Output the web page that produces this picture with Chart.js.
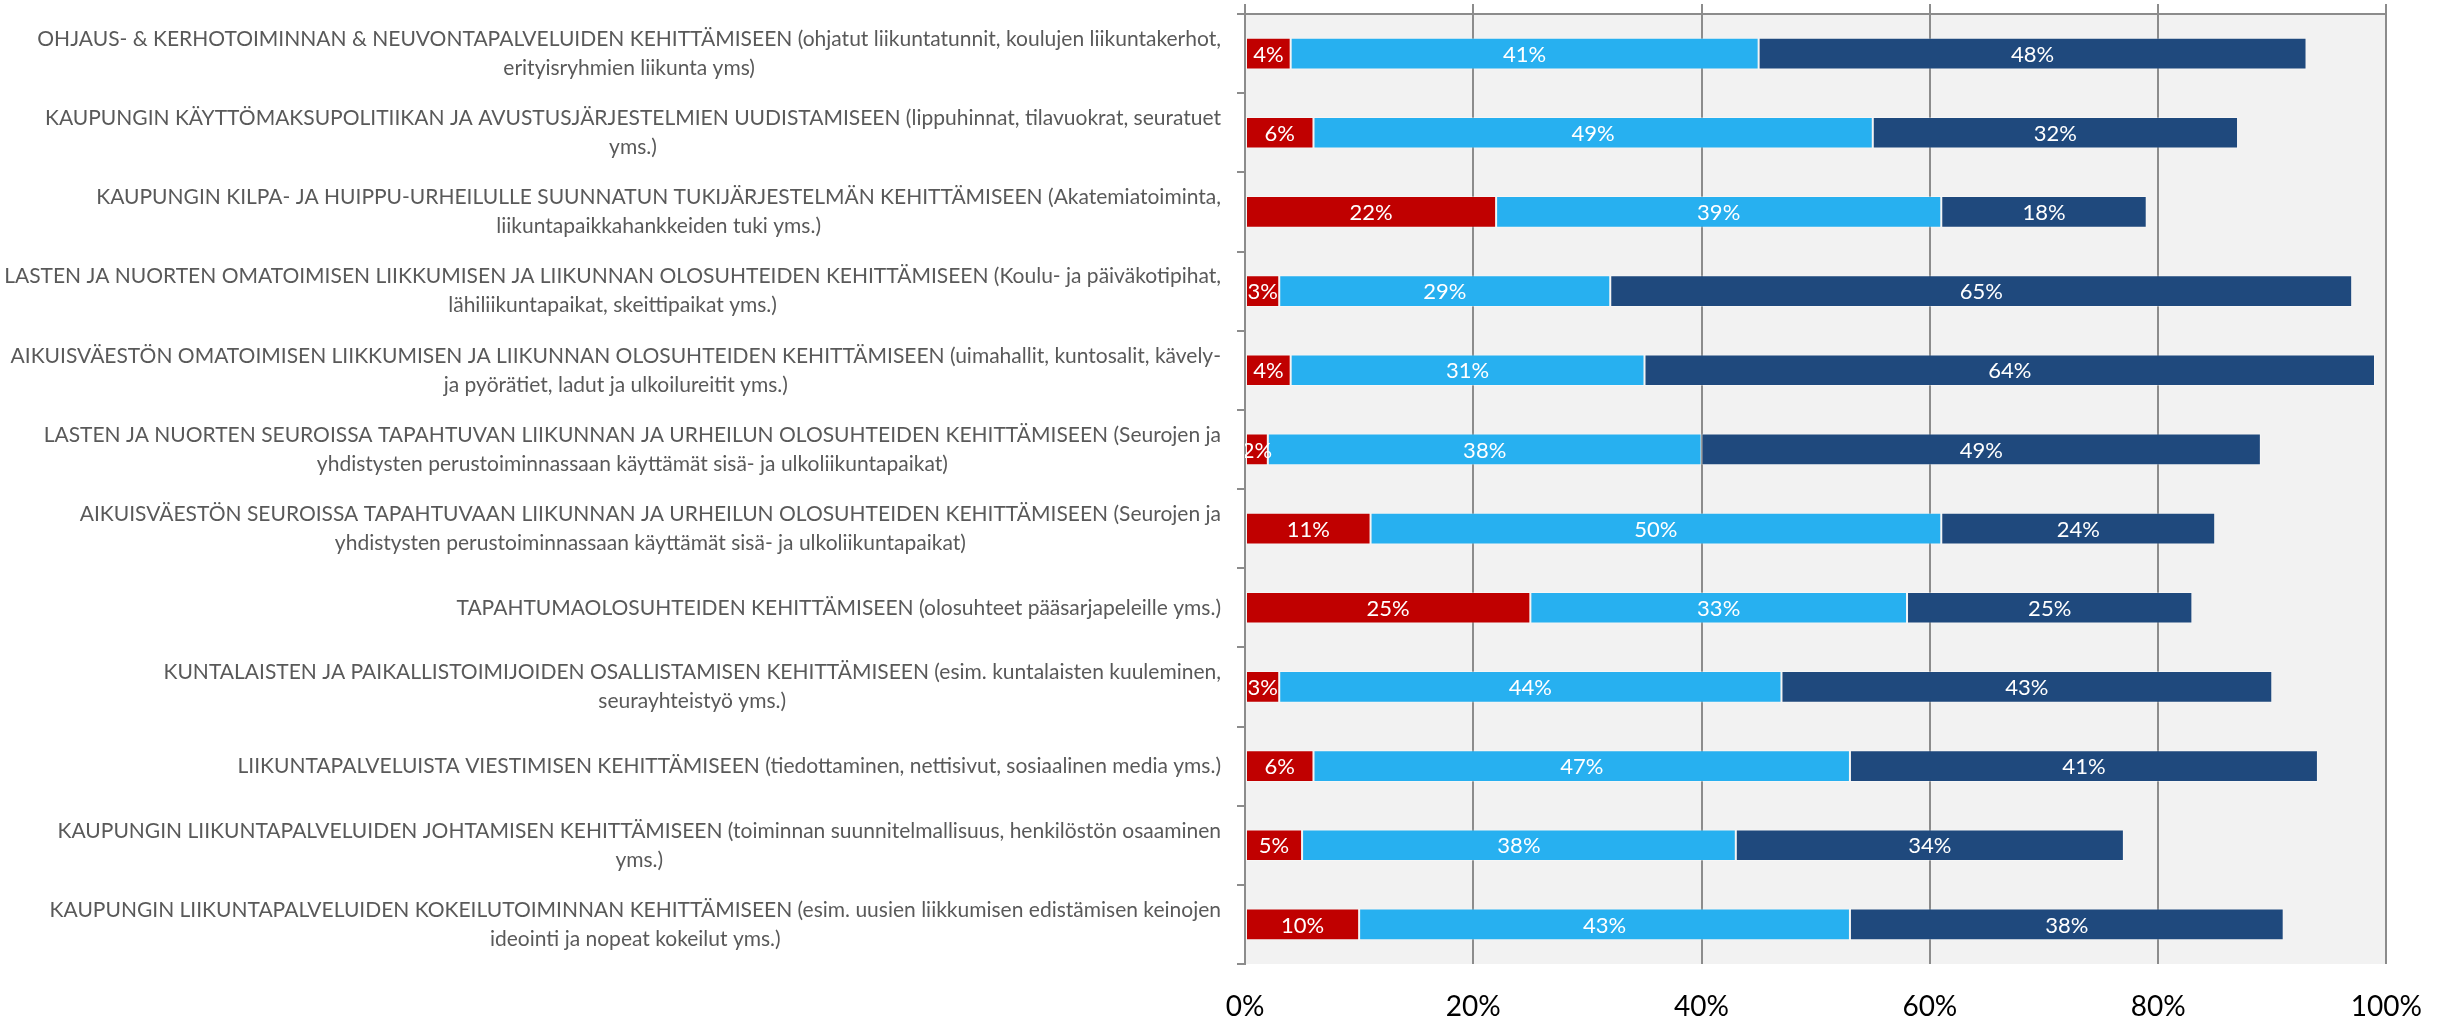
<!DOCTYPE html>
<html>
<head>
<meta charset="utf-8">
<script src="https://cdn.jsdelivr.net/npm/chart.js@4"></script>
<style>
  body { margin: 0; background: #fff; }
  .chart_box { width: 2448px; height: 1020px; }
</style>
</head>
<body>
<div class="chart_box"><canvas id="chart_kehittaminen"></canvas></div>
<script>
let categories = [
  ['OHJAUS- & KERHOTOIMINNAN & NEUVONTAPALVELUIDEN KEHITTÄMISEEN (ohjatut liikuntatunnit, koulujen liikuntakerhot,', 'erityisryhmien liikunta yms)'],
  ['KAUPUNGIN KÄYTTÖMAKSUPOLITIIKAN JA AVUSTUSJÄRJESTELMIEN UUDISTAMISEEN (lippuhinnat, tilavuokrat, seuratuet', 'yms.)'],
  ['KAUPUNGIN KILPA- JA HUIPPU-URHEILULLE SUUNNATUN TUKIJÄRJESTELMÄN KEHITTÄMISEEN (Akatemiatoiminta,', 'liikuntapaikkahankkeiden tuki yms.)'],
  ['LASTEN JA NUORTEN OMATOIMISEN LIIKKUMISEN JA LIIKUNNAN OLOSUHTEIDEN KEHITTÄMISEEN (Koulu- ja päiväkotipihat,', 'lähiliikuntapaikat, skeittipaikat yms.)'],
  ['AIKUISVÄESTÖN OMATOIMISEN LIIKKUMISEN JA LIIKUNNAN OLOSUHTEIDEN KEHITTÄMISEEN (uimahallit, kuntosalit, kävely-', 'ja pyörätiet, ladut ja ulkoilureitit yms.)'],
  ['LASTEN JA NUORTEN SEUROISSA TAPAHTUVAN LIIKUNNAN JA URHEILUN OLOSUHTEIDEN KEHITTÄMISEEN (Seurojen ja', 'yhdistysten perustoiminnassaan käyttämät sisä- ja ulkoliikuntapaikat)'],
  ['AIKUISVÄESTÖN SEUROISSA TAPAHTUVAAN LIIKUNNAN JA URHEILUN OLOSUHTEIDEN KEHITTÄMISEEN (Seurojen ja', 'yhdistysten perustoiminnassaan käyttämät sisä- ja ulkoliikuntapaikat)'],
  ['TAPAHTUMAOLOSUHTEIDEN KEHITTÄMISEEN (olosuhteet pääsarjapeleille yms.)'],
  ['KUNTALAISTEN JA PAIKALLISTOIMIJOIDEN OSALLISTAMISEN KEHITTÄMISEEN (esim. kuntalaisten kuuleminen,', 'seurayhteistyö yms.)'],
  ['LIIKUNTAPALVELUISTA VIESTIMISEN KEHITTÄMISEEN (tiedottaminen, nettisivut, sosiaalinen media yms.)'],
  ['KAUPUNGIN LIIKUNTAPALVELUIDEN JOHTAMISEN KEHITTÄMISEEN (toiminnan suunnitelmallisuus, henkilöstön osaaminen', 'yms.)'],
  ['KAUPUNGIN LIIKUNTAPALVELUIDEN KOKEILUTOIMINNAN KEHITTÄMISEEN (esim. uusien liikkumisen edistämisen keinojen', 'ideointi ja nopeat kokeilut yms.)']
]

let seriesNames = ['Sarja 1', 'Sarja 2', 'Sarja 3']
let redValues = [4, 6, 22, 3, 4, 2, 11, 25, 3, 6, 5, 10]
let lightBlueValues = [41, 49, 39, 29, 31, 38, 50, 33, 44, 47, 38, 43]
let darkBlueValues = [48, 32, 18, 65, 64, 49, 24, 25, 43, 41, 34, 38]
let xTicks = [0, 20, 40, 60, 80, 100]

let gridColor = '#8c8c8c'
let fontName = 'Lato'

// harmaa tausta piirtoalueelle
const plotBackground = {
  id: 'plotBackground',
  beforeDraw(chart) {
    let { ctx, chartArea } = chart
    ctx.save()
    ctx.fillStyle = '#f2f2f2'
    ctx.fillRect(chartArea.left, chartArea.top, chartArea.right - chartArea.left, chartArea.bottom - chartArea.top)
    ctx.restore()
  }
}

// prosenttiluvut palkkien keskelle
const barValues = {
  id: 'barValues',
  afterDatasetsDraw(chart) {
    let { ctx, chartArea } = chart
    ctx.save()
    ctx.beginPath()
    ctx.rect(chartArea.left, chartArea.top, chartArea.right - chartArea.left, chartArea.bottom - chartArea.top)
    ctx.clip()
    ctx.font = '22px ' + fontName
    ctx.fillStyle = '#ffffff'
    ctx.textAlign = 'center'
    ctx.textBaseline = 'middle'
    chart.data.datasets.forEach((ds, i) => {
      chart.getDatasetMeta(i).data.forEach((bar, j) => {
        let p = bar.getCenterPoint()
        ctx.fillText(ds.data[j] + '%', p.x, p.y + 1)
      })
    })
    ctx.restore()
  }
}

// kategoriatekstit: rivit keskitetään oman laatikkonsa sisään
const categoryLabels = {
  id: 'categoryLabels',
  afterDraw(chart) {
    let { ctx, chartArea } = chart
    let yScale = chart.scales.y
    let right = chartArea.left - 24
    let lineHeight = 29
    ctx.save()
    ctx.font = '21px ' + fontName
    ctx.fillStyle = '#595959'
    ctx.textAlign = 'center'
    ctx.textBaseline = 'middle'
    categories.forEach((lines, i) => {
      let maxW = Math.max(...lines.map(l => ctx.measureText(l).width))
      let cx = right - maxW / 2
      let cy = yScale.getPixelForValue(i)
      let startY = cy - (lines.length - 1) * lineHeight / 2
      lines.forEach((line, k) => {
        ctx.fillText(line, cx, startY + k * lineHeight)
      })
    })
    ctx.restore()
  }
}

let ctx = document.getElementById('chart_kehittaminen')

new Chart(ctx, {
  type: 'bar',
  data: {
    labels: categories,
    datasets: [{
      label: seriesNames[0],
      data: redValues,
      backgroundColor: '#c00000',
      borderColor: 'rgba(255,255,255,0.3)',
      borderWidth: 1,
      borderSkipped: false
    }, {
      label: seriesNames[1],
      data: lightBlueValues,
      backgroundColor: '#27b0f0',
      borderColor: 'rgba(255,255,255,0.3)',
      borderWidth: 1,
      borderSkipped: false
    }, {
      label: seriesNames[2],
      data: darkBlueValues,
      backgroundColor: '#1f497d',
      borderColor: 'rgba(255,255,255,0.3)',
      borderWidth: 1,
      borderSkipped: false
    }]
  },
  options: {
    indexAxis: 'y',
    responsive: true,
    maintainAspectRatio: false,
    animation: false,
    barPercentage: 0.4,
    categoryPercentage: 1,
    layout: {
      padding: { top: 4, right: 60, left: 0, bottom: 0 }
    },
    plugins: {
      legend: { display: false },
      tooltip: { enabled: false }
    },
    scales: {
      x: {
        stacked: true,
        position: 'bottom',
        min: 0,
        max: 100,
        afterBuildTicks: scale => {
          scale.ticks = xTicks.map(v => ({ value: v }))
        },
        afterFit: scale => {
          scale.height = 56
        },
        grid: {
          color: gridColor,
          lineWidth: 2,
          drawTicks: false
        },
        border: { display: false },
        ticks: {
          padding: 26,
          color: '#000000',
          font: { family: fontName, size: 28 },
          callback: v => v + '%'
        }
      },
      x2: {
        axis: 'x',
        type: 'linear',
        position: 'top',
        min: 0,
        max: 100,
        afterBuildTicks: scale => {
          scale.ticks = xTicks.map(v => ({ value: v }))
        },
        grid: {
          color: gridColor,
          lineWidth: 2,
          tickLength: 10,
          drawOnChartArea: false
        },
        border: { display: true, color: gridColor, width: 2 },
        ticks: { display: false }
      },
      y: {
        stacked: true,
        afterFit: scale => {
          scale.width = 1245
        },
        grid: {
          offset: true,
          color: gridColor,
          lineWidth: 2,
          tickLength: 8,
          drawOnChartArea: false
        },
        border: { display: true, color: gridColor, width: 2 },
        ticks: { display: false }
      }
    }
  },
  plugins: [plotBackground, barValues, categoryLabels]
})
</script>
</body>
</html>
